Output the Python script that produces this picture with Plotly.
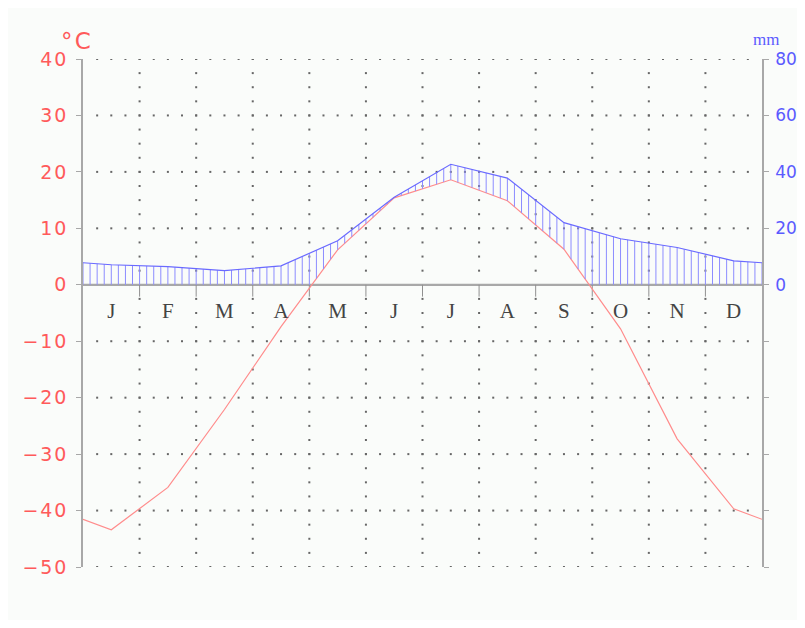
import numpy as np
import plotly.graph_objects as go

months = ["J", "F", "M", "A", "M", "J", "J", "A", "S", "O", "N", "D"]
temp_c = [-43.4, -35.9, -22.1, -7.4, 6.2, 15.4, 18.6, 14.9, 6.3, -7.8, -27.3, -39.7]
precip_mm = [7.1, 6.4, 5.0, 6.7, 15.6, 31.0, 42.7, 37.8, 22.0, 16.3, 13.2, 8.5]
temp_ticks = [40, 30, 20, 10, 0, -10, -20, -30, -40, -50]
precip_ticks = [80, 60, 40, 20, 0]

RED = "#ff5a5a"
BLUE = "#5a5aff"
GRAY = "#a8a8a8"
BG = "#fafcfa"
HS = "\u200a"

def spaced(s):
    return HS.join(s)

# x positions: month centres, with wrap-around edge values
xc = [i + 0.5 for i in range(12)]
x_full = [0.0] + xc + [12.0]
t_edge = (temp_c[0] + temp_c[-1]) / 2
p_edge = (precip_mm[0] + precip_mm[-1]) / 2
t_full = [t_edge] + temp_c + [t_edge]
p_full = [p_edge] + precip_mm + [p_edge]

fig = go.Figure()

# dotted grid
gx, gy = [], []
for lv in temp_ticks:
    if lv == 0:
        continue
    for k in range(1, 48):
        gx.append(k / 4)
        gy.append(lv)
for m in range(1, 12):
    for j in range(0, 37):
        v = -50 + 2.5 * j
        if v == 0:
            continue
        gx.append(m)
        gy.append(v)
fig.add_trace(go.Scatter(x=gx, y=gy, mode="markers",
                         marker=dict(size=2, color="#666666", symbol="square"),
                         hoverinfo="skip", showlegend=False))

# zero line and month ticks
fig.add_trace(go.Scatter(x=[0, 12], y=[0, 0], mode="lines",
                         line=dict(color=GRAY, width=2.2), hoverinfo="skip", showlegend=False))
tx, ty = [], []
for m in range(1, 12):
    tx += [m, m, None]
    ty += [0, -2.1, None]
fig.add_trace(go.Scatter(x=tx, y=ty, mode="lines", line=dict(color="#909090", width=1),
                         hoverinfo="skip", showlegend=False))

# hatching (precip above temperature / zero)
hx = np.arange(0, 12 * 8 + 1) / 8
p_i = np.interp(hx, x_full, p_full)
t_i = np.interp(hx, x_full, t_full)
lo = np.maximum(2 * t_i, 0)
hxs, hys = [], []
for xv, pv, lv in zip(hx, p_i, lo):
    if pv > lv:
        hxs += [xv, xv, None]
        hys += [lv, pv, None]
fig.add_trace(go.Scatter(x=hxs, y=hys, mode="lines", yaxis="y2",
                         line=dict(color="#8c8cff", width=1), hoverinfo="skip", showlegend=False))

# precipitation line
fig.add_trace(go.Scatter(x=x_full, y=p_full, mode="lines", yaxis="y2",
                         line=dict(color="#6a6aff", width=1.2), showlegend=False))
# temperature line
fig.add_trace(go.Scatter(x=x_full, y=t_full, mode="lines",
                         line=dict(color="#ff8c8c", width=1.2), showlegend=False))

# month labels
fig.add_trace(go.Scatter(x=xc, y=[-5] * 12, mode="text", text=months,
                         textfont=dict(family="Liberation Serif, serif",
                                       size=21, color="#444444"),
                         cliponaxis=False, hoverinfo="skip", showlegend=False))

# figure sits at an 8px page offset
W, H = 789, 612
L, R, T, B = 75, 35, 51, 53
pw, ph = W - L - R, H - T - B

def px(x):
    return (x - 8 - L) / pw

def py(y):
    return (H - B - (y - 8)) / ph

fig.update_layout(
    width=W, height=H,
    margin=dict(l=L, r=R, t=T, b=B, pad=0, autoexpand=False),
    paper_bgcolor=BG,
    plot_bgcolor=BG,
    showlegend=False,
    xaxis=dict(range=[0, 12], showgrid=False, zeroline=False, showticklabels=False,
               ticks="", showline=False, fixedrange=True),
    yaxis=dict(range=[-50, 40], tickvals=temp_ticks,
               ticktext=[spaced(str(v).replace("-", "\u2212")) for v in temp_ticks],
               ticks="outside", ticklen=5, tickcolor=GRAY, tickwidth=1,
               showline=True, linecolor=GRAY, linewidth=1.5,
               showgrid=False, zeroline=False, ticklabelstandoff=6,
               tickfont=dict(family="DejaVu Sans", size=19, color=RED)),
    yaxis2=dict(range=[-100, 80], overlaying="y", side="right",
                tickvals=list(range(-100, 81, 20)),
                ticktext=[str(v) if v >= 0 else "" for v in range(-100, 81, 20)],
                ticks="outside", ticklen=5, tickcolor=GRAY, tickwidth=1,
                showline=True, linecolor=GRAY, linewidth=1.5,
                showgrid=False, zeroline=False, ticklabelstandoff=3,
                tickfont=dict(family="DejaVu Sans", size=17, color=BLUE)),
    annotations=[
        dict(text="\u00b0" + HS + "C", xref="paper", yref="paper", x=px(59), y=py(26),
             showarrow=False, font=dict(family="DejaVu Sans", size=23, color=RED)),
        dict(text="mm", xref="paper", yref="paper", x=px(781), y=py(28),
             showarrow=False, font=dict(family="Liberation Serif", size=17, color=BLUE)),
    ],
)

fig.write_html("out.html")
